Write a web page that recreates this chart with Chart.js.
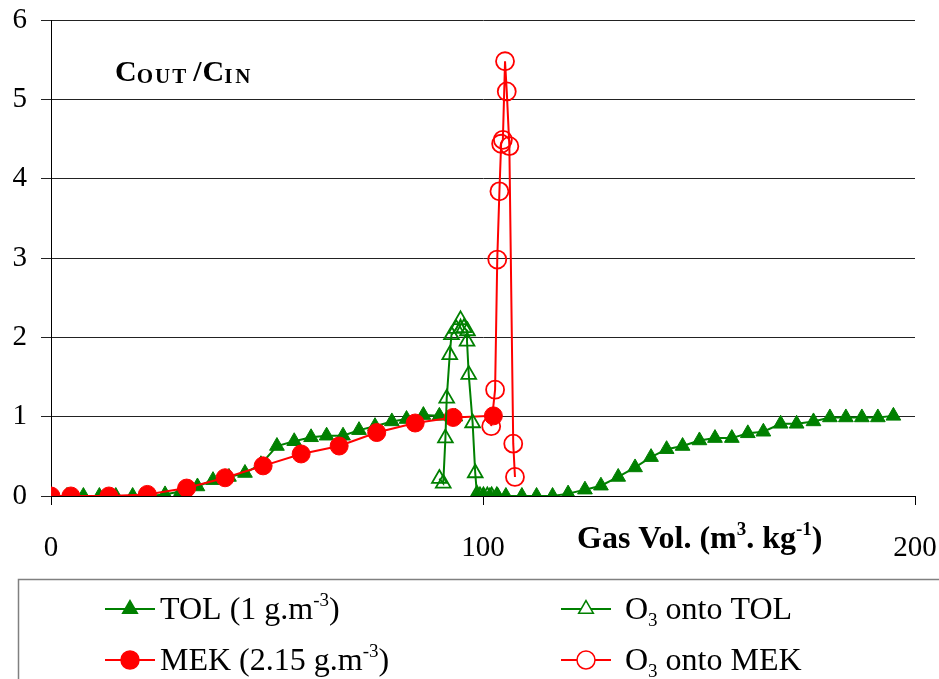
<!DOCTYPE html>
<html>
<head>
<meta charset="utf-8">
<script src="https://cdn.jsdelivr.net/npm/chart.js@4.4.1/dist/chart.umd.min.js"></script>
<style>
  html, body { margin: 0; padding: 0; background: #fff; }
  #wrap { width: 939px; height: 679px; }
</style>
</head>
<body>
<div id="wrap"><canvas id="myChart" width="939" height="679"></canvas></div>
<script>
// TOL (1 g.m-3), first loading then second loading after ozone
const tolX1 = [0, 3.7, 7.5, 11.2, 15.0, 18.9, 22.6, 26.4, 30.1, 33.9, 37.5, 41.2, 44.9, 48.6, 52.3, 56.3, 60.2, 63.8, 67.6, 71.3, 75.0, 78.9, 82.3, 86.2, 89.9, 93.6];
const tolY1 = [0, 0, 0, 0, 0, 0, 0, 0.02, 0.06, 0.12, 0.2, 0.24, 0.29, 0.4, 0.63, 0.69, 0.74, 0.76, 0.76, 0.83, 0.88, 0.94, 0.97, 1.02, 1.01, 1.0];
const tolX2 = [98.6, 100.1, 101.6, 103.4, 105.3, 109.0, 112.4, 116.1, 119.7, 123.6, 127.3, 131.3, 135.2, 138.9, 142.5, 146.2, 150.1, 153.7, 157.6, 161.3, 164.9, 168.9, 172.6, 176.5, 180.3, 184.0, 187.7, 191.4, 195.0];
const tolY2 = [0, 0, 0, 0, 0, 0, 0, 0, 0.03, 0.08, 0.13, 0.24, 0.36, 0.49, 0.59, 0.63, 0.70, 0.73, 0.73, 0.79, 0.81, 0.91, 0.91, 0.94, 0.99, 0.99, 0.99, 0.99, 1.01];

// MEK (2.15 g.m-3)
const mekX = [0, 4.6, 13.4, 22.3, 31.4, 40.3, 49.1, 57.9, 66.7, 75.4, 84.3, 93.1, 102.4];
const mekY = [0, 0, 0, 0.02, 0.1, 0.23, 0.38, 0.53, 0.63, 0.80, 0.92, 0.99, 1.01];

// O3 onto TOL
const o3TolX = [89.9, 90.8, 91.3, 91.6, 92.3, 92.7, 93.8, 94.8, 95.6, 96.4, 96.3, 96.7, 97.6, 98.2, 98.6, 99.3, 100.1, 101.0, 102.0, 103.2];
const o3TolY = [0.22, 0.16, 0.73, 1.23, 1.78, 2.03, 2.11, 2.22, 2.12, 2.08, 1.95, 1.53, 0.92, 0.29, 0.02, 0, 0, 0, 0, 0];

// O3 onto MEK
const o3MekX = [101.9, 102.8, 103.3, 103.8, 104.2, 104.6, 105.1, 105.5, 106.1, 107.0, 107.4];
const o3MekY = [0.88, 1.34, 2.98, 3.84, 4.44, 4.49, 5.48, 5.10, 4.41, 0.66, 0.24];

const xTicks = [0, 100, 200];
const yTicks = [0, 1, 2, 3, 4, 5, 6];

const green = '#008000';
const red = '#ff0000';
const serif = '"Liberation Serif", "DejaVu Serif", serif';

const pts = (xs, ys) => xs.map((x, i) => ({ x: x, y: ys[i] }));

// draw a row of text pieces (for sub / superscripts)
function runs(ctx, x, y, parts) {
  parts.forEach(p => {
    ctx.font = (p.bold ? 'bold ' : '') + p.size + 'px ' + serif;
    ctx.letterSpacing = (p.ls || 0) + 'px';
    ctx.fillText(p.t, x, y + (p.dy || 0));
    x += ctx.measureText(p.t).width + (p.gap || 0);
  });
  ctx.letterSpacing = '0px';
  return x;
}

function marker(ctx, style, x, y, color, filled) {
  ctx.save();
  ctx.strokeStyle = color;
  ctx.lineWidth = 1.5;
  ctx.beginPath();
  if (style === 'triangle') {
    const r = 8.5;
    ctx.moveTo(x, y - r);
    ctx.lineTo(x + r * 0.866, y + r / 2);
    ctx.lineTo(x - r * 0.866, y + r / 2);
    ctx.closePath();
  } else {
    ctx.arc(x, y, 9, 0, Math.PI * 2);
  }
  ctx.fillStyle = filled ? color : '#fff';
  ctx.fill();
  ctx.stroke();
  ctx.restore();
}

const legendRows = [
  { x: 105, tx: 160, y: 609, color: green, style: 'triangle', filled: true,
    text: [{ t: 'TOL (1 g.m', size: 32 }, { t: '-3', size: 19, dy: -13 }, { t: ')', size: 32 }] },
  { x: 561, tx: 625, y: 609, color: green, style: 'triangle', filled: false,
    text: [{ t: 'O', size: 32 }, { t: '3', size: 19, dy: 7 }, { t: ' onto TOL', size: 32 }] },
  { x: 105, tx: 160, y: 660, color: red, style: 'circle', filled: true,
    text: [{ t: 'MEK (2.15 g.m', size: 32 }, { t: '-3', size: 19, dy: -13 }, { t: ')', size: 32 }] },
  { x: 561, tx: 625, y: 660, color: red, style: 'circle', filled: false,
    text: [{ t: 'O', size: 32 }, { t: '3', size: 19, dy: 7 }, { t: ' onto MEK', size: 32 }] }
];

const extras = {
  id: 'extras',
  afterDraw(chart) {
    const ctx = chart.ctx;
    ctx.save();
    ctx.fillStyle = '#000';
    ctx.textBaseline = 'alphabetic';
    ctx.textAlign = 'left';

    // y quantity label
    runs(ctx, 115, 81, [
      { t: 'C', size: 30, bold: true },
      { t: 'OUT', size: 21, bold: true, dy: 2, gap: 5, ls: 2 },
      { t: '/', size: 30, bold: true, gap: 1 },
      { t: 'C', size: 30, bold: true },
      { t: 'IN', size: 21, bold: true, dy: 2, ls: 3 }
    ]);

    // x axis title
    runs(ctx, 577, 548, [
      { t: 'Gas Vol. (m', size: 32, bold: true },
      { t: '3', size: 19, bold: true, dy: -13 },
      { t: '. kg', size: 32, bold: true },
      { t: '-1', size: 19, bold: true, dy: -13 },
      { t: ')', size: 32, bold: true }
    ]);

    // legend box
    ctx.strokeStyle = '#808080';
    ctx.lineWidth = 1.5;
    ctx.strokeRect(18.5, 579.5, 940, 120);

    legendRows.forEach(r => {
      ctx.strokeStyle = r.color;
      ctx.lineWidth = 2;
      ctx.beginPath();
      ctx.moveTo(r.x, r.y);
      ctx.lineTo(r.x + 50, r.y);
      ctx.stroke();
      marker(ctx, r.style, r.x + 25, r.y, r.color, r.filled);
      ctx.fillStyle = '#000';
      runs(ctx, r.tx, r.y + 10, r.text);
    });
    ctx.restore();
  }
};

const ctx = document.getElementById('myChart');
const myChart = new Chart(ctx, {
  type: 'scatter',
  data: {
    datasets: [
      {
        label: 'TOL (1 g.m-3)',
        data: pts(tolX1, tolY1).concat([{ x: 96, y: null }], pts(tolX2, tolY2)),
        borderColor: green, backgroundColor: green,
        pointStyle: 'triangle', pointRadius: 8.5, pointBorderWidth: 1,
        borderWidth: 2, showLine: true, spanGaps: false, order: 4
      },
      {
        label: 'MEK (2.15 g.m-3)',
        data: pts(mekX, mekY),
        borderColor: red, backgroundColor: red,
        pointStyle: 'circle', pointRadius: 9, pointBorderWidth: 1,
        borderWidth: 2, showLine: true, order: 3
      },
      {
        label: 'O3 onto TOL',
        data: pts(o3TolX, o3TolY),
        borderColor: green, backgroundColor: 'rgba(0,0,0,0)',
        pointStyle: 'triangle', pointRadius: 8.5, pointBorderWidth: 1.8,
        borderWidth: 2, showLine: true, order: 2
      },
      {
        label: 'O3 onto MEK',
        data: pts(o3MekX, o3MekY),
        borderColor: red, backgroundColor: 'rgba(0,0,0,0)',
        pointStyle: 'circle', pointRadius: 9, pointBorderWidth: 1.8,
        borderWidth: 2, showLine: true, order: 1
      }
    ]
  },
  options: {
    responsive: false,
    animation: false,
    devicePixelRatio: 1,
    layout: { padding: { top: 20, right: 24, left: 0, bottom: 0 } },
    plugins: { legend: { display: false }, tooltip: { enabled: false } },
    scales: {
      x: {
        type: 'linear', min: 0, max: 200,
        afterBuildTicks: s => { s.ticks = xTicks.map(v => ({ value: v })); },
        afterFit: s => { s.height = 183; s.paddingLeft = 0; s.paddingRight = 0; },
        ticks: { color: '#000', font: { family: serif, size: 29 }, padding: 26, maxRotation: 0 },
        grid: { drawOnChartArea: false, drawTicks: true, tickLength: 9, color: '#000' },
        border: { color: '#000', width: 1 }
      },
      y: {
        min: 0, max: 6,
        afterBuildTicks: s => { s.ticks = yTicks.map(v => ({ value: v })); },
        afterFit: s => { s.width = 51; s.paddingTop = 0; s.paddingBottom = 0; },
        ticks: { color: '#000', font: { family: serif, size: 29 }, padding: 14 },
        grid: { color: '#222', tickLength: 10, lineWidth: 1 },
        border: { color: '#000', width: 1 }
      }
    }
  },
  plugins: [extras]
});
</script>
</body>
</html>
